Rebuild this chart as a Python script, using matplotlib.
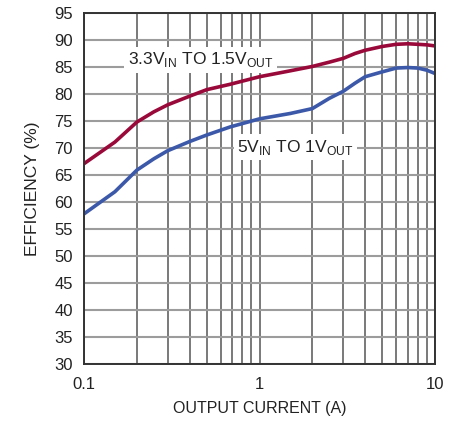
import matplotlib
matplotlib.use('Agg')
from matplotlib import pyplot as plt
from matplotlib.ticker import FixedLocator, NullFormatter

# efficiency (A, %)
current_33 = [0.1, 0.15, 0.2, 0.25, 0.3, 0.4, 0.5, 0.68, 1.0, 1.5, 2.0, 2.5, 3.0, 3.5, 4.0, 5.0, 6.0, 7.0, 8.0, 9.0, 10.0]
eff_33 = [67.1, 71.1, 74.8, 76.7, 78.0, 79.6, 80.8, 81.8, 83.2, 84.3, 85.1, 85.9, 86.6, 87.5, 88.1, 88.8, 89.2, 89.3, 89.2, 89.1, 88.9]

current_5 = [0.1, 0.15, 0.2, 0.25, 0.3, 0.4, 0.5, 0.68, 1.0, 1.5, 2.0, 2.5, 3.0, 3.5, 4.0, 5.0, 6.0, 7.0, 8.0, 9.0, 10.0]
eff_5 = [57.8, 61.9, 65.9, 68.0, 69.5, 71.2, 72.4, 73.9, 75.4, 76.4, 77.3, 79.2, 80.5, 82.0, 83.2, 84.1, 84.8, 84.9, 84.8, 84.4, 83.8]

y_ticks = list(range(30, 100, 5))
x_ticks = [0.1, 1, 10]
x_tick_labels = ['0.1', '1', '10']

plt.rcParams['font.family'] = ['Liberation Sans', 'DejaVu Sans']
plt.rcParams['mathtext.fontset'] = 'custom'
plt.rcParams['mathtext.rm'] = 'Liberation Sans'

fig = plt.figure(figsize=(4.57, 4.23), dpi=100)
ax = fig.add_axes((84 / 457, 1 - 364 / 423, 351 / 457, 351 / 423))

ax.set_xscale('log')
ax.set_xlim(0.1, 10)
ax.set_ylim(30, 95)

minor = [m * d for d in (0.1, 1) for m in range(2, 10)]
ax.xaxis.set_minor_locator(FixedLocator(minor))
ax.xaxis.set_minor_formatter(NullFormatter())
ax.set_xticks(x_ticks)
ax.set_xticklabels(x_tick_labels)
ax.set_yticks(y_ticks)

ax.grid(True, which='both', axis='x', color='#555555', lw=1.1)
ax.grid(True, which='major', axis='y', color='#9c9c9c', lw=1.5)
ax.set_axisbelow(True)
ax.tick_params(which='both', length=0, labelsize=12, colors='#222222')
ax.tick_params(axis='x', pad=9)
ax.tick_params(axis='y', pad=8)
for s in ax.spines.values():
    s.set_color('#333333')
    s.set_linewidth(1.4)
    s.set_zorder(5)

ax.plot(current_33, eff_33, color='#990a3a', lw=2.6, zorder=3)
ax.plot(current_5, eff_5, color='#3c58a8', lw=2.6, zorder=3)

# labels sit on white boxes that hide the grid, under the curves
bbox = dict(facecolor='white', edgecolor='none', pad=2.5)
ax.text(0.178, 85.5, r'3.3V$_{\mathregular{IN}}$ TO 1.5V$_{\mathregular{OUT}}$', fontsize=12.5,
        ha='left', va='baseline', color='#222222', bbox=bbox, zorder=2.5)
ax.text(0.748, 69.3, r'5V$_{\mathregular{IN}}$ TO 1V$_{\mathregular{OUT}}$', fontsize=12.5,
        ha='left', va='baseline', color='#222222', bbox=bbox, zorder=2.5)

ax.set_xlabel('OUTPUT CURRENT (A)', fontsize=11.5, color='#222222', labelpad=7)
ax.set_ylabel('EFFICIENCY (%)', fontsize=12.5, color='#222222', labelpad=10)

fig.savefig('out.png', dpi=100)
